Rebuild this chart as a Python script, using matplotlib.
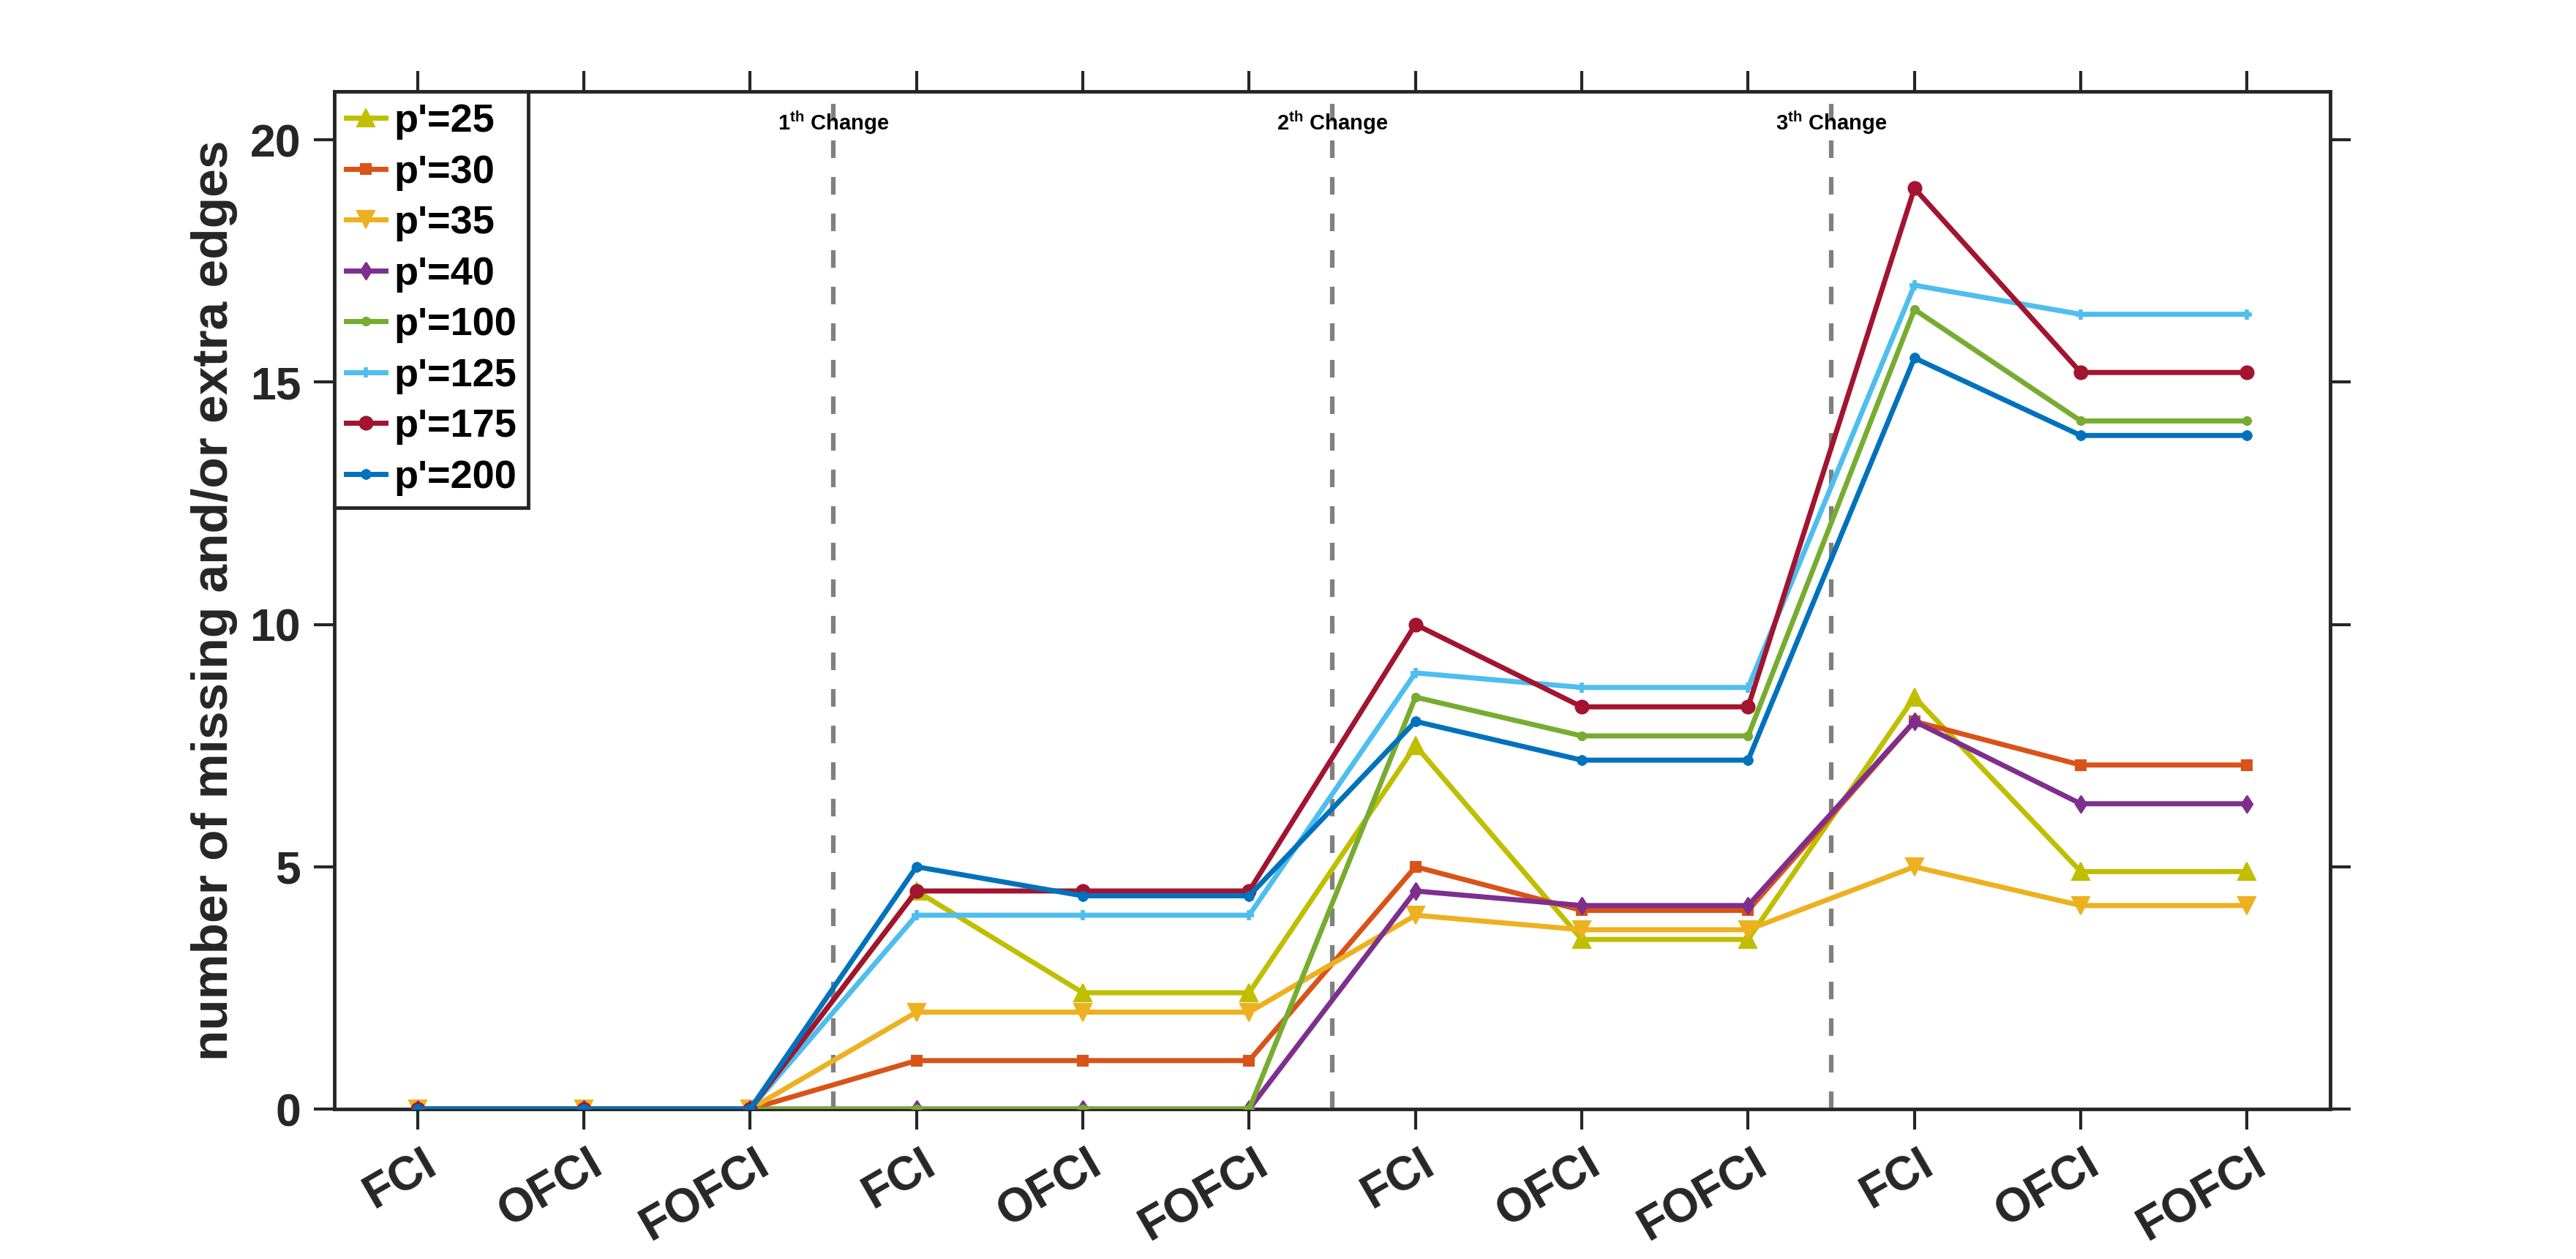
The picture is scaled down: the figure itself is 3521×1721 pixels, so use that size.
import matplotlib
matplotlib.use("Agg")
import matplotlib.pyplot as plt
from matplotlib.transforms import ScaledTranslation

plt.rcParams['font.family'] = ['Liberation Sans', 'DejaVu Sans']
plt.rcParams['font.weight'] = 'bold'
plt.rcParams['mathtext.fontset'] = 'custom'
plt.rcParams['mathtext.rm'] = 'Liberation Sans:bold'
plt.rcParams['mathtext.bf'] = 'Liberation Sans:bold'
plt.rcParams['mathtext.default'] = 'bf'

# ---------------- data ----------------
categories = ["FCI", "OFCI", "FOFCI", "FCI", "OFCI", "FOFCI",
              "FCI", "OFCI", "FOFCI", "FCI", "OFCI", "FOFCI"]
x_pos = list(range(1, 13))

p25 = [0, 0, 0, 4.5, 2.4, 2.4, 7.5, 3.5, 3.5, 8.5, 4.9, 4.9]
p30 = [0, 0, 0, 1.0, 1.0, 1.0, 5.0, 4.1, 4.1, 8.0, 7.1, 7.1]
p35 = [0, 0, 0, 2.0, 2.0, 2.0, 4.0, 3.7, 3.7, 5.0, 4.2, 4.2]
p40 = [0, 0, 0, 0, 0, 0, 4.5, 4.2, 4.2, 8.0, 6.3, 6.3]
p100 = [0, 0, 0, 0, 0, 0, 8.5, 7.7, 7.7, 16.5, 14.2, 14.2]
p125 = [0, 0, 0, 4.0, 4.0, 4.0, 9.0, 8.7, 8.7, 17.0, 16.4, 16.4]
p175 = [0, 0, 0, 4.5, 4.5, 4.5, 10.0, 8.3, 8.3, 19.0, 15.2, 15.2]
p200 = [0, 0, 0, 5.0, 4.4, 4.4, 8.0, 7.2, 7.2, 15.5, 13.9, 13.9]

series_labels = ["p'=25", "p'=30", "p'=35", "p'=40", "p'=100", "p'=125", "p'=175", "p'=200"]
change_positions = [3.5, 6.5, 9.5]
change_labels = ["1$^{th}$ Change", "2$^{th}$ Change", "3$^{th}$ Change"]
y_ticks = [0, 5, 10, 15, 20]

# ---------------- styles ----------------
diamond = [(0, 1), (0.65, 0), (0, -1), (-0.65, 0), (0, 1)]
styles = [
    dict(color='#BFBF00', marker='^', ms=17),
    dict(color='#D95319', marker='s', ms=10),
    dict(color='#EDB120', marker='v', ms=17),
    dict(color='#7E2F8E', marker=diamond, ms=17),
    dict(color='#77AC30', marker='o', ms=8),
    dict(color='#4DBEEE', marker='+', ms=10, mew=4),
    dict(color='#A2142F', marker='o', ms=13),
    dict(color='#0072BD', marker=(8, 2, 0), ms=10, mew=3),
]
series = [p25, p30, p35, p40, p100, p125, p175, p200]

axc = '#262626'
fig = plt.figure(figsize=(35.21, 17.21), dpi=100)
ax = fig.add_axes([0.1298, 0.1191, 0.7748, 0.8083])

for i, cp in enumerate(change_positions):
    ax.axvline(cp, color='#808080', lw=4.5, dashes=(3.85, 4.15), zorder=1)
    ax.text(cp, 20.2, change_labels[i], ha='center', va='baseline',
            fontsize=21, fontweight='bold', color='black', zorder=2)

for vals, lab, st in zip(series, series_labels, styles):
    st = dict(st)
    mew = st.pop('mew', 1.5)
    ax.plot(x_pos, vals, lw=5, label=lab, mfc=st['color'], mec=st['color'],
            mew=mew, zorder=3, **st)

ax.set_xlim(0.5, 12.5)
ax.set_ylim(0, 21)
ax.set_xticks(x_pos)
ax.set_xticklabels(categories, rotation=30, ha='right', va='top')
ax.set_yticks(y_ticks)
ax.tick_params(axis='both', which='major', direction='out', length=20, width=3,
               color=axc, labelcolor=axc, top=True, right=True)
ax.tick_params(axis='y', pad=13, labelsize=45)
ax.tick_params(axis='x', pad=12, labelsize=46)
for lbl in ax.get_xticklabels():
    lbl.set_transform(lbl.get_transform() + ScaledTranslation(0.36, 0, fig.dpi_scale_trans))
    lbl.set_fontweight('bold')
for lbl in ax.get_yticklabels():
    lbl.set_fontweight('bold')
for sp in ax.spines.values():
    sp.set_linewidth(3.5)
    sp.set_color(axc)

ax.set_ylabel('number of missing and/or extra edges', fontsize=50,
              fontweight='bold', color=axc, va='center')
ax.yaxis.set_label_coords(-0.060, 0.5)

leg = ax.legend(loc='upper left', bbox_to_anchor=(0, 1), borderaxespad=0,
                handlelength=1.0, handletextpad=0.2,
                labelspacing=0.36, borderpad=0.3, fancybox=False, framealpha=1,
                prop={'weight': 'bold', 'size': 39})
leg.get_frame().set_edgecolor(axc)
leg.get_frame().set_linewidth(3.5)

fig.savefig('out.png', dpi=100, facecolor='white')
